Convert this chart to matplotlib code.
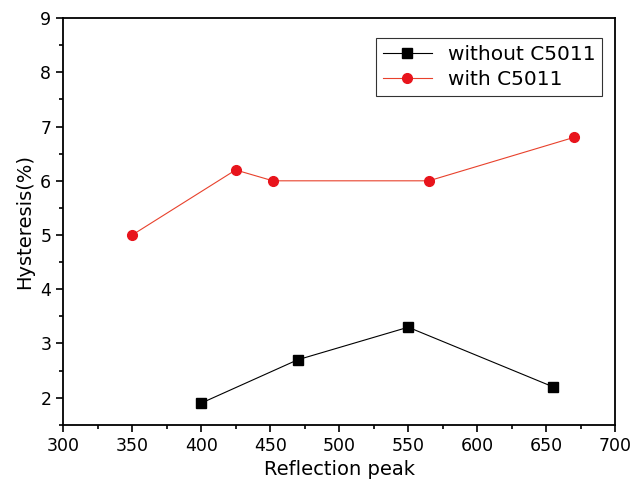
import matplotlib
matplotlib.use("Agg")
import matplotlib.pyplot as plt
from matplotlib.ticker import MultipleLocator

x_without = [400, 470, 550, 655]
y_without = [1.9, 2.7, 3.3, 2.2]
x_with = [350, 425, 452, 565, 670]
y_with = [5.0, 6.2, 6.0, 6.0, 6.8]

plt.rcParams['font.family'] = ['DejaVu Sans']
fig = plt.figure(figsize=(6.31, 4.9), dpi=100)
ax = fig.add_axes([0.1, 0.133, 0.875, 0.83])

ax.plot(x_without, y_without, color='black', lw=0.8, marker='s', ms=6.5, label='without C5011')
ax.plot(x_with, y_with, color='#e8412c', lw=0.8, marker='o', ms=7, mfc='#e8141c', mec='#e8141c', label='with C5011')

ax.set_xlim(300, 700)
ax.set_ylim(1.5, 9)
ax.xaxis.set_major_locator(MultipleLocator(50))
ax.xaxis.set_minor_locator(MultipleLocator(25))
ax.yaxis.set_major_locator(MultipleLocator(1))
ax.yaxis.set_minor_locator(MultipleLocator(0.5))
ax.tick_params(which='both', direction='out', width=1.2, labelsize=12.5)
ax.tick_params(which='major', length=5)
ax.tick_params(which='minor', length=3)
ax.tick_params(top=False, right=False)
for s in ax.spines.values():
    s.set_linewidth(1.3)
ax.set_xlabel('Reflection peak', fontsize=14)
ax.set_ylabel('Hysteresis(%)', fontsize=14)
leg = ax.legend(loc='upper right', bbox_to_anchor=(0.995, 0.977), fontsize=14.5, frameon=True, fancybox=False,
                edgecolor='black', handlelength=2.4, borderpad=0.35, labelspacing=0.3)
leg.get_frame().set_linewidth(0.8)
fig.savefig('out.png', dpi=100)
